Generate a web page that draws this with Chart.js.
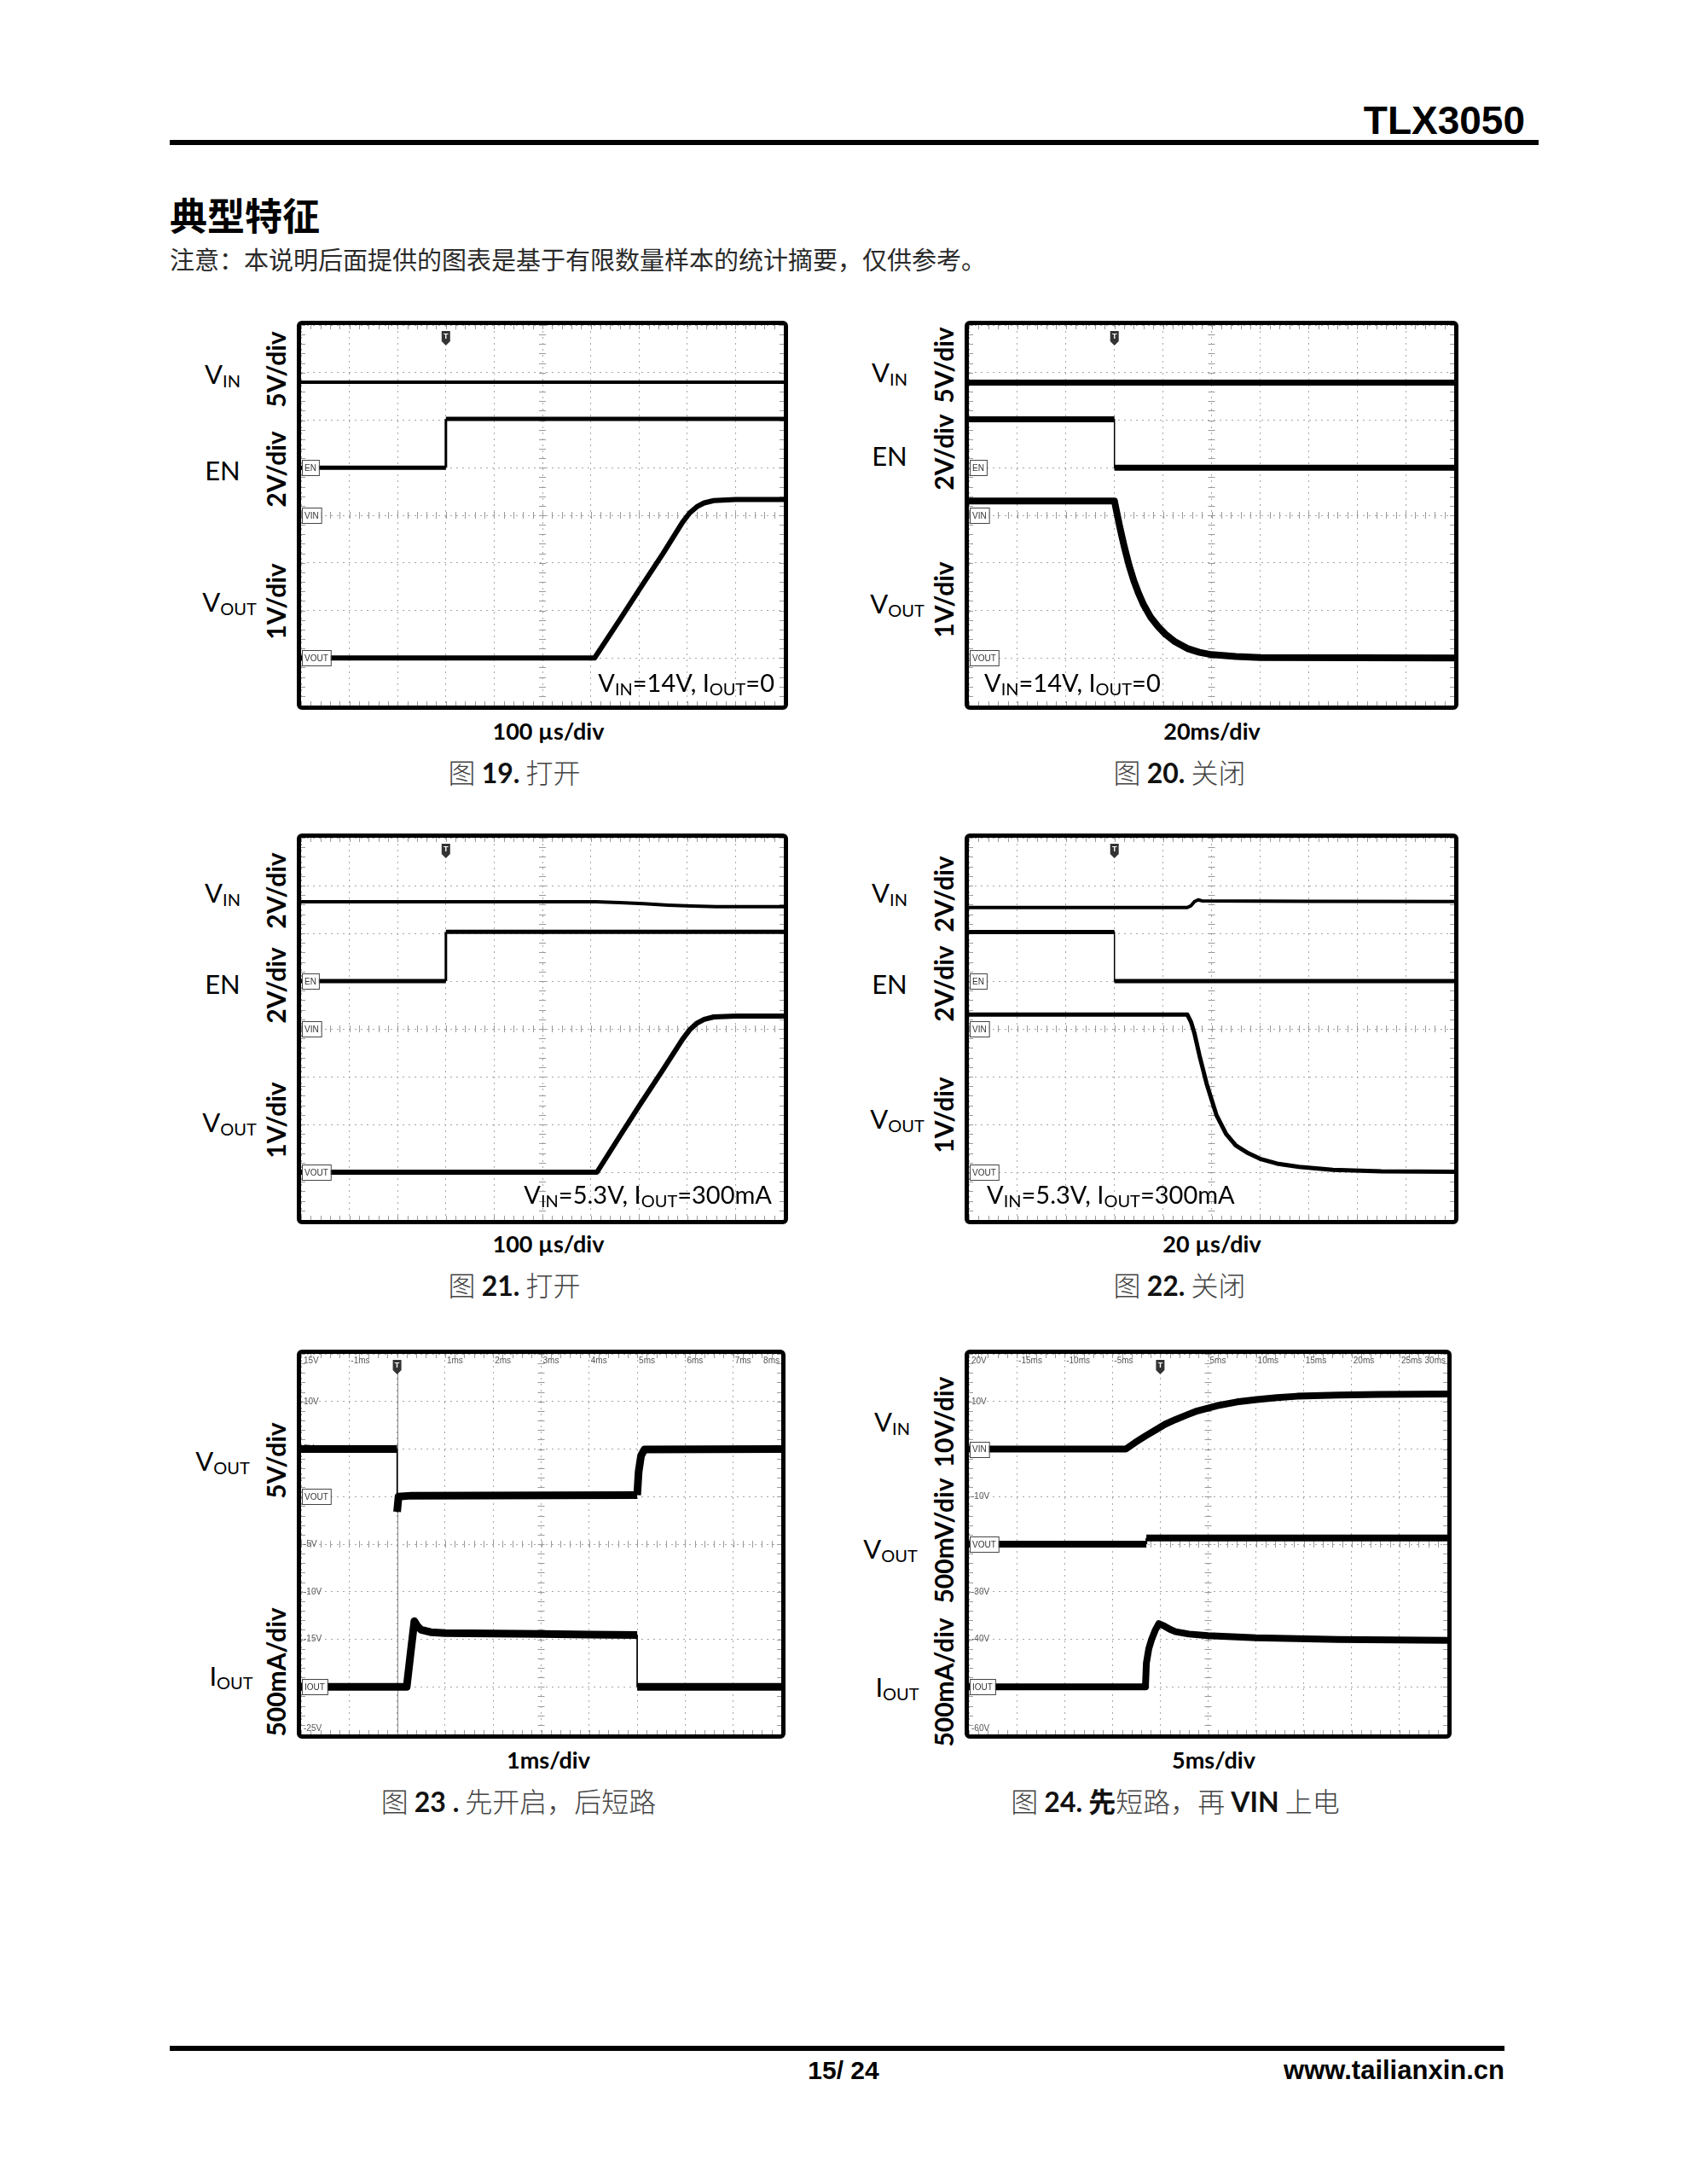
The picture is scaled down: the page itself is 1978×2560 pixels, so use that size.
<!DOCTYPE html>
<html><head><meta charset="utf-8">
<script src="https://cdn.jsdelivr.net/npm/chart.js@4.4.1/dist/chart.umd.min.js"></script>
<style>
html,body{margin:0;padding:0;background:#fff;}
body{width:1978px;height:2560px;position:relative;overflow:hidden;font-family:Lato,"Noto Sans CJK SC",sans-serif;color:#000;}
.abs{position:absolute;white-space:nowrap;line-height:1;}
.c{transform:translate(-50%,-50%);}
.r{transform:translate(-100%,-50%);}
.l{transform:translate(0,-50%);}
.box{position:absolute;border:5px solid #000;border-radius:6px;box-sizing:border-box;background:#fff;}
.box canvas{position:absolute;left:0;top:0;}
.rot{position:absolute;transform:translate(-50%,-50%) rotate(-90deg);font-weight:700;font-size:30px;white-space:nowrap;line-height:1;}
.ch{position:absolute;transform:translate(-50%,-50%);font-size:31px;white-space:nowrap;line-height:1;}
.ch sub,.ann sub{font-size:20px;vertical-align:baseline;position:relative;top:4px;}
.ann{position:absolute;font-size:29px;white-space:nowrap;line-height:1;z-index:5;}
.xl{position:absolute;transform:translate(-50%,-50%);font-weight:700;font-size:27px;white-space:nowrap;line-height:1;}
.cap{position:absolute;transform:translate(-50%,-50%);font-size:32px;white-space:nowrap;line-height:1;color:#444;font-family:"Noto Sans CJK SC",sans-serif;font-weight:300;}
.cap b{font-family:Lato,sans-serif;font-weight:700;color:#111;}
.cap b.cj{font-family:"Noto Sans CJK SC",sans-serif;}
</style>
</head><body>

<div class="abs r" style="left:1788px;top:141px;font:bold 46px 'Liberation Sans',sans-serif;">TLX3050</div>
<div class="abs" style="left:199px;top:164px;width:1605px;height:6px;background:#000;"></div>
<div class="abs l" style="left:199px;top:251px;font:bold 44px 'Noto Sans CJK SC',sans-serif;">典型特征</div>
<div class="abs l" style="left:199px;top:303px;font:29px 'Noto Sans CJK SC',sans-serif;color:#2a2a2a;">注意：本说明后面提供的图表是基于有限数量样本的统计摘要，仅供参考。</div>

<!-- chart boxes -->
<div class="box" style="left:348px;top:376px;width:576px;height:456px;"><canvas id="c19" width="566" height="446"></canvas></div>
<div class="box" style="left:1131px;top:376px;width:579px;height:456px;"><canvas id="c20" width="569" height="446"></canvas></div>
<div class="box" style="left:348px;top:977px;width:576px;height:458px;"><canvas id="c21" width="566" height="448"></canvas></div>
<div class="box" style="left:1131px;top:977px;width:579px;height:458px;"><canvas id="c22" width="569" height="448"></canvas></div>
<div class="box" style="left:348px;top:1582px;width:573px;height:456px;"><canvas id="c23" width="563" height="446"></canvas></div>
<div class="box" style="left:1131px;top:1582px;width:571px;height:456px;"><canvas id="c24" width="561" height="446"></canvas></div>

<!-- chart 19 labels -->
<div class="ch" style="left:261px;top:438px;">V<sub>IN</sub></div>
<div class="ch" style="left:261px;top:551px;">EN</div>
<div class="ch" style="left:269px;top:705px;">V<sub>OUT</sub></div>
<div class="rot" style="left:323px;top:433px;">5V/div</div>
<div class="rot" style="left:323px;top:550px;">2V/div</div>
<div class="rot" style="left:323px;top:705px;">1V/div</div>
<div class="ann r" style="left:908px;top:799px;">V<sub>IN</sub>=14V, I<sub>OUT</sub>=0</div>
<div class="xl" style="left:643px;top:856px;">100 µs/div</div>
<div class="cap" style="left:603px;top:905px;">图 <b>19.</b> 打开</div>

<!-- chart 20 labels -->
<div class="ch" style="left:1043px;top:436px;">V<sub>IN</sub></div>
<div class="ch" style="left:1043px;top:534px;">EN</div>
<div class="ch" style="left:1052px;top:707px;">V<sub>OUT</sub></div>
<div class="rot" style="left:1106px;top:428px;">5V/div</div>
<div class="rot" style="left:1106px;top:530px;">2V/div</div>
<div class="rot" style="left:1106px;top:703px;">1V/div</div>
<div class="ann l" style="left:1154px;top:799px;">V<sub>IN</sub>=14V, I<sub>OUT</sub>=0</div>
<div class="xl" style="left:1421px;top:856px;">20ms/div</div>
<div class="cap" style="left:1383px;top:905px;">图 <b>20.</b> 关闭</div>

<!-- chart 21 labels -->
<div class="ch" style="left:261px;top:1046px;">V<sub>IN</sub></div>
<div class="ch" style="left:261px;top:1153px;">EN</div>
<div class="ch" style="left:269px;top:1315px;">V<sub>OUT</sub></div>
<div class="rot" style="left:323px;top:1044px;">2V/div</div>
<div class="rot" style="left:323px;top:1155px;">2V/div</div>
<div class="rot" style="left:323px;top:1313px;">1V/div</div>
<div class="ann r" style="left:905px;top:1399px;">V<sub>IN</sub>=5.3V, I<sub>OUT</sub>=300mA</div>
<div class="xl" style="left:643px;top:1457px;">100 µs/div</div>
<div class="cap" style="left:603px;top:1506px;">图 <b>21.</b> 打开</div>

<!-- chart 22 labels -->
<div class="ch" style="left:1043px;top:1046px;">V<sub>IN</sub></div>
<div class="ch" style="left:1043px;top:1153px;">EN</div>
<div class="ch" style="left:1052px;top:1311px;">V<sub>OUT</sub></div>
<div class="rot" style="left:1106px;top:1048px;">2V/div</div>
<div class="rot" style="left:1106px;top:1153px;">2V/div</div>
<div class="rot" style="left:1106px;top:1307px;">1V/div</div>
<div class="ann l" style="left:1157px;top:1399px;">V<sub>IN</sub>=5.3V, I<sub>OUT</sub>=300mA</div>
<div class="xl" style="left:1421px;top:1457px;">20 µs/div</div>
<div class="cap" style="left:1383px;top:1506px;">图 <b>22.</b> 关闭</div>

<!-- chart 23 labels -->
<div class="ch" style="left:261px;top:1712px;">V<sub>OUT</sub></div>
<div class="ch" style="left:271px;top:1964px;">I<sub>OUT</sub></div>
<div class="rot" style="left:323px;top:1712px;">5V/div</div>
<div class="rot" style="left:323px;top:1960px;">500mA/div</div>
<div class="xl" style="left:643px;top:2062px;">1ms/div</div>
<div class="cap" style="left:608px;top:2111px;">图 <b>23 .</b> 先开启，后短路</div>

<!-- chart 24 labels -->
<div class="ch" style="left:1046px;top:1666px;">V<sub>IN</sub></div>
<div class="ch" style="left:1044px;top:1815px;">V<sub>OUT</sub></div>
<div class="ch" style="left:1052px;top:1977px;">I<sub>OUT</sub></div>
<div class="rot" style="left:1106px;top:1667px;">10V/div</div>
<div class="rot" style="left:1106px;top:1806px;">500mV/div</div>
<div class="rot" style="left:1106px;top:1972px;">500mA/div</div>
<div class="xl" style="left:1423px;top:2062px;">5ms/div</div>
<div class="cap" style="left:1378px;top:2111px;">图 <b>24.</b> <b class="cj">先</b>短路，再 <b>VIN</b> 上电</div>

<div class="abs" style="left:199px;top:2398px;width:1565px;height:6px;background:#000;"></div>
<div class="abs c" style="left:989px;top:2427px;font:bold 30px 'Liberation Sans',sans-serif;">15/ 24</div>
<div class="abs r" style="left:1764px;top:2427px;font:bold 31px 'Liberation Sans',sans-serif;">www.tailianxin.cn</div>

<script>
// ---------- Figure 19 : turn-on, VIN=14V, IOUT=0 (time in µs) ----------
const fig19_xRange = [-300, 700];
const fig19_vinT = [-300, 700];
const fig19_vin = [14, 14];
const fig19_enT = [-300, 0, 0, 700];
const fig19_en = [0, 0, 2.05, 2.05];
const fig19_voutT = [-300, 308, 360, 400, 450, 490, 505, 520, 535, 555, 600, 700];
const fig19_vout = [0, 0, 0.8, 1.43, 2.2, 2.85, 3.05, 3.18, 3.26, 3.31, 3.33, 3.33];

// ---------- Figure 20 : turn-off, VIN=14V, IOUT=0 (time in ms) ----------
const fig20_xRange = [-60, 140];
const fig20_vinT = [-60, 140];
const fig20_vin = [13.95, 13.95];
const fig20_enT = [-60, 0, 0, 140];
const fig20_en = [2.04, 2.04, 0, 0];
const fig20_voutT = [-60, 0, 1, 2, 3, 4, 6, 8, 10, 12, 15, 18, 21, 25, 30, 35, 40, 50, 60, 140];
const fig20_vout = [3.3, 3.3, 3.05, 2.8, 2.57, 2.35, 1.95, 1.62, 1.35, 1.12, 0.85, 0.66, 0.5, 0.34, 0.2, 0.12, 0.07, 0.03, 0.01, 0];

// ---------- Figure 21 : turn-on, VIN=5.3V, IOUT=300mA (time in µs) ----------
const fig21_xRange = [-300, 700];
const fig21_vinT = [-300, 310, 360, 410, 460, 510, 560, 700];
const fig21_vin = [5.32, 5.32, 5.29, 5.24, 5.18, 5.14, 5.12, 5.12];
const fig21_enT = [-300, 0, 0, 700];
const fig21_en = [0, 0, 2.06, 2.06];
const fig21_voutT = [-300, 313, 360, 400, 450, 490, 505, 520, 535, 555, 600, 700];
const fig21_vout = [0, 0, 0.75, 1.38, 2.15, 2.78, 2.98, 3.12, 3.2, 3.25, 3.27, 3.27];

// ---------- Figure 22 : turn-off, VIN=5.3V, IOUT=300mA (time in µs) ----------
const fig22_xRange = [-60, 140];
const fig22_vinT = [-60, 30, 31.5, 33, 34.5, 36, 80, 140];
const fig22_vin = [5.08, 5.08, 5.15, 5.33, 5.4, 5.36, 5.34, 5.33];
const fig22_enT = [-60, 0, 0, 140];
const fig22_en = [2.05, 2.05, 0, 0];
const fig22_voutT = [-60, 30, 31.5, 33, 35, 38, 42, 46, 50, 55, 60, 67, 76, 90, 110, 140];
const fig22_vout = [3.3, 3.3, 3.15, 2.9, 2.45, 1.85, 1.2, 0.8, 0.56, 0.4, 0.28, 0.18, 0.11, 0.05, 0.02, 0.01];

// ---------- Figure 23 : enabled first, then short (time in ms, VOUT in V, IOUT in mA) ----------
const fig23_xRange = [-2, 8];
const fig23_voutT = [-2, 0, 0, 0.03, 0.3, 5.0, 5.0, 5.03, 5.08, 5.15, 8];
const fig23_vout = [5.0, 5.0, -1.6, 0, 0.1, 0.15, 0.15, 2.6, 4.3, 4.95, 5.0];
const fig23_ioutT = [-2, 0.2, 0.28, 0.36, 0.42, 0.5, 0.7, 1.0, 2, 3, 4, 5.0, 5.0, 8];
const fig23_iout = [0, 0, 350, 690, 640, 600, 575, 565, 560, 555, 550, 545, 0, 0];
const fig23_topTickLabels = ['', '-1ms', '', '1ms', '2ms', '3ms', '4ms', '5ms', '6ms', '7ms', '8ms'];
const fig23_sideTickLabels = ['-25V', '', '-15V', '-10V', '-5V', '', '5V', '10V', '15V'];

// ---------- Figure 24 : short first, then VIN power-up (time in ms, VIN V, VOUT mV, IOUT mA) ----------
const fig24_xRange = [-20, 30];
const fig24_vinT = [-20, -3.6, -2.6, -1.5, -0.5, 0.5, 1.6, 2.7, 3.7, 5.9, 8.0, 10.1, 12.2, 14.3, 18.6, 22.8, 30];
const fig24_vin = [0, 0, 1.4, 2.8, 4.0, 5.2, 6.2, 7.1, 7.9, 9.1, 9.9, 10.4, 10.8, 11.1, 11.35, 11.5, 11.55];
const fig24_voutT = [-20, -1.45, -1.45, 30];
const fig24_vout = [0, 0, 65, 65];
const fig24_ioutT = [-20, -1.55, -1.45, -1.2, -0.9, -0.5, -0.15, 0.3, 1.0, 1.6, 3, 5, 10, 18.6, 30];
const fig24_iout = [0, 0, 250, 400, 500, 600, 665, 645, 605, 580, 555, 538, 515, 498, 488];
const fig24_topTickLabels = ['', '-15ms', '-10ms', '-5ms', '', '5ms', '10ms', '15ms', '20ms', '25ms', '30ms'];
const fig24_sideTickLabels = ['-60V', '', '-40V', '-30V', '', '-10V', '', '10V', '20V'];

// ---------- scope decoration plugin (minor ticks, markers, trigger) ----------
const scopeDeco = {
  id: 'scope',
  beforeDatasetsDraw(chart, args, o) {
    const ctx = chart.ctx, a = chart.chartArea, xs = chart.scales.x, gy = chart.scales.grid;
    const x0 = xs.min, dx = (xs.max - xs.min) / 10;
    ctx.save();
    ctx.strokeStyle = '#9a9a9a'; ctx.lineWidth = 1;
    ctx.beginPath();
    const xc = xs.getPixelForValue(x0 + 5 * dx), yc = gy.getPixelForValue(4);
    for (let k = 0; k <= 40; k++) {
      const y = Math.round(gy.getPixelForValue(k * 0.2)) + 0.5;
      ctx.moveTo(xc - 4, y); ctx.lineTo(xc + 4, y);
      ctx.moveTo(a.left, y); ctx.lineTo(a.left + 5, y);
      ctx.moveTo(a.right, y); ctx.lineTo(a.right - 5, y);
    }
    for (let k = 0; k <= 50; k++) {
      const x = Math.round(xs.getPixelForValue(x0 + k * 0.2 * dx)) + 0.5;
      ctx.moveTo(x, yc - 4); ctx.lineTo(x, yc + 4);
      ctx.moveTo(x, a.top); ctx.lineTo(x, a.top + 5);
      ctx.moveTo(x, a.bottom); ctx.lineTo(x, a.bottom - 5);
    }
    ctx.stroke();
    if (o.trigLine) {
      const tx = Math.round(xs.getPixelForValue(o.trigger)) + 0.5;
      ctx.strokeStyle = '#8a8a8a';
      ctx.beginPath(); ctx.moveTo(tx, a.top + 16); ctx.lineTo(tx, a.bottom); ctx.stroke();
    }
    // small grid labels
    ctx.fillStyle = '#555'; ctx.font = '10px "Liberation Sans", sans-serif';
    if (o.topLabels) {
      ctx.textBaseline = 'top';
      o.topLabels.forEach((t, i) => {
        if (!t) return;
        const x = xs.getPixelForValue(x0 + i * dx);
        if (i === 10) { ctx.textAlign = 'right'; ctx.fillText(t, x - 2, a.top + 3); }
        else { ctx.textAlign = 'left'; ctx.fillText(t, x + 2, a.top + 3); }
      });
    }
    if (o.sideLabels) {
      ctx.textAlign = 'left';
      o.sideLabels.forEach((t, i) => {
        if (!t) return;
        const y = gy.getPixelForValue(i);
        if (i === 8) { ctx.textBaseline = 'top'; ctx.fillText(t, a.left + 3, y + 3); }
        else if (i === 0) { ctx.textBaseline = 'bottom'; ctx.fillText(t, a.left + 3, y - 2); }
        else { ctx.textBaseline = 'middle'; ctx.fillText(t, a.left + 3, y); }
      });
    }
    ctx.restore();
  },
  afterDatasetsDraw(chart, args, o) {
    const ctx = chart.ctx, a = chart.chartArea, xs = chart.scales.x, gy = chart.scales.grid;
    ctx.save();
    (o.markers || []).forEach(m => {
      const y = gy.getPixelForValue(m.div);
      ctx.font = '10px "Liberation Sans Narrow", "Liberation Sans", sans-serif';
      const w = ctx.measureText(m.text).width + 6, h = 18;
      ctx.fillStyle = '#fff'; ctx.fillRect(a.left + 1, y - h / 2, w, h);
      ctx.strokeStyle = '#444'; ctx.lineWidth = 1;
      ctx.strokeRect(a.left + 1.5, Math.round(y - h / 2) + 0.5, w, h);
      ctx.fillStyle = '#333'; ctx.textAlign = 'left'; ctx.textBaseline = 'middle';
      ctx.fillText(m.text, a.left + 4, y + 1);
    });
    if (o.trigger !== undefined) {
      const tx = xs.getPixelForValue(o.trigger), ty = a.top + 7;
      ctx.fillStyle = '#333';
      ctx.beginPath();
      ctx.moveTo(tx - 5, ty); ctx.lineTo(tx + 5, ty); ctx.lineTo(tx + 5, ty + 12);
      ctx.lineTo(tx, ty + 17); ctx.lineTo(tx - 5, ty + 12); ctx.closePath(); ctx.fill();
      ctx.fillStyle = '#fff'; ctx.font = 'bold 9px "Liberation Sans", sans-serif';
      ctx.textAlign = 'center'; ctx.textBaseline = 'middle';
      ctx.fillText('T', tx, ty + 7);
    }
    ctx.restore();
  }
};
Chart.register(scopeDeco);

function gridScale(extra) {
  return Object.assign({
    type: 'linear',
    ticks: { display: false },
    grid: { color: '#a6a6a6', lineWidth: 1, drawTicks: false },
    border: { display: false, dash: [2, 5] }
  }, extra);
}

function scope(id, xRange, channels, deco) {
  const scales = {
    x: gridScale({ min: xRange[0], max: xRange[1], position: 'bottom',
      ticks: { display: false, stepSize: (xRange[1] - xRange[0]) / 10 } }),
    grid: gridScale({ min: 0, max: 8, position: 'left', ticks: { display: false, stepSize: 1 } })
  };
  const datasets = channels.map((c, i) => {
    scales['ch' + i] = { type: 'linear', display: false, min: c.range[0], max: c.range[1] };
    return {
      data: c.t.map((x, k) => ({ x: x, y: c.v[k] })),
      yAxisID: 'ch' + i,
      borderColor: '#000',
      borderWidth: c.w,
      pointRadius: 0,
      fill: false,
      tension: 0,
      borderJoinStyle: 'round',
      borderCapStyle: 'butt',
      segment: { borderWidth: ctx => (ctx.p0.parsed.x === ctx.p1.parsed.x ? (c.edge || c.w) : c.w) }
    };
  });
  new Chart(document.getElementById(id), {
    type: 'line',
    data: { datasets },
    options: {
      responsive: false, animation: false, events: [],
      layout: { padding: 0 },
      plugins: { legend: { display: false }, tooltip: { enabled: false }, scope: deco },
      scales
    }
  });
}

// Fig 19 : VIN 5V/div (gnd 4 div), EN 2V/div (gnd 5 div), VOUT 1V/div (gnd 1 div)
scope('c19', fig19_xRange, [
  { t: fig19_vinT, v: fig19_vin, range: [-20, 20], w: 4 },
  { t: fig19_enT, v: fig19_en, range: [-10, 6], w: 5, edge: 3 },
  { t: fig19_voutT, v: fig19_vout, range: [-1, 7], w: 6 }
], { trigger: 0, markers: [{ text: 'EN', div: 5 }, { text: 'VIN', div: 4 }, { text: 'VOUT', div: 1 }] });

scope('c20', fig20_xRange, [
  { t: fig20_vinT, v: fig20_vin, range: [-20, 20], w: 7 },
  { t: fig20_enT, v: fig20_en, range: [-10, 6], w: 7, edge: 1.5 },
  { t: fig20_voutT, v: fig20_vout, range: [-1, 7], w: 8 }
], { trigger: 0, markers: [{ text: 'EN', div: 5 }, { text: 'VIN', div: 4 }, { text: 'VOUT', div: 1 }] });

// Fig 21/22 : VIN 2V/div (gnd 4 div)
scope('c21', fig21_xRange, [
  { t: fig21_vinT, v: fig21_vin, range: [-8, 8], w: 4 },
  { t: fig21_enT, v: fig21_en, range: [-10, 6], w: 5, edge: 3 },
  { t: fig21_voutT, v: fig21_vout, range: [-1, 7], w: 6 }
], { trigger: 0, markers: [{ text: 'EN', div: 5 }, { text: 'VIN', div: 4 }, { text: 'VOUT', div: 1 }] });

scope('c22', fig22_xRange, [
  { t: fig22_vinT, v: fig22_vin, range: [-8, 8], w: 4 },
  { t: fig22_enT, v: fig22_en, range: [-10, 6], w: 5, edge: 1.5 },
  { t: fig22_voutT, v: fig22_vout, range: [-1, 7], w: 5 }
], { trigger: 0, markers: [{ text: 'EN', div: 5 }, { text: 'VIN', div: 4 }, { text: 'VOUT', div: 1 }] });

// Fig 23 : VOUT 5V/div (gnd 5 div), IOUT 500mA/div (gnd 1 div)
scope('c23', fig23_xRange, [
  { t: fig23_voutT, v: fig23_vout, range: [-25, 15], w: 9, edge: 1.5 },
  { t: fig23_ioutT, v: fig23_iout, range: [-500, 3500], w: 9, edge: 1 }
], { trigger: 0, trigLine: true, topLabels: fig23_topTickLabels, sideLabels: fig23_sideTickLabels,
     markers: [{ text: 'VOUT', div: 5 }, { text: 'IOUT', div: 1 }] });

// Fig 24 : VIN 10V/div (gnd 6 div), VOUT 500mV/div (gnd 4 div), IOUT 500mA/div (gnd 1 div)
scope('c24', fig24_xRange, [
  { t: fig24_vinT, v: fig24_vin, range: [-60, 20], w: 8 },
  { t: fig24_voutT, v: fig24_vout, range: [-2000, 2000], w: 8, edge: 2 },
  { t: fig24_ioutT, v: fig24_iout, range: [-500, 3500], w: 8 }
], { trigger: 0, topLabels: fig24_topTickLabels, sideLabels: fig24_sideTickLabels,
     markers: [{ text: 'VIN', div: 6 }, { text: 'VOUT', div: 4 }, { text: 'IOUT', div: 1 }] });
</script>
</body></html>
